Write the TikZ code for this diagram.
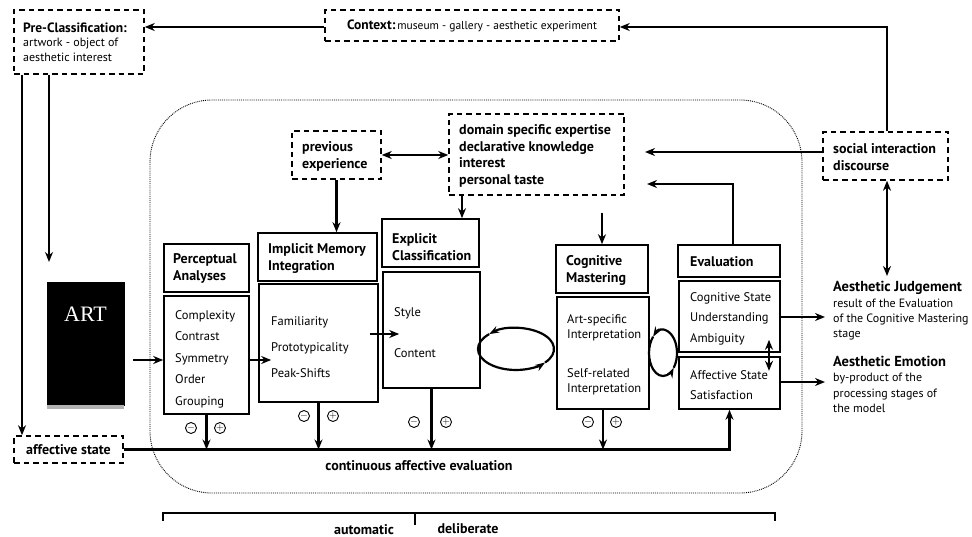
\documentclass[tikz,border=0pt]{standalone}
\usepackage{fontspec}
\setmainfont{PT Sans}
\newfontfamily\artfont{Liberation Serif}
\usetikzlibrary{arrows.meta,fit}
\begin{document}
\begin{tikzpicture}[x=1pt,y=-1pt,
  box/.style={draw,line width=1.6pt,inner sep=0pt},
  dbox/.style={draw,line width=1.5pt,dash pattern=on 5.5pt off 4pt,inner sep=0pt},
  conn/.style={line width=2.2pt,-{Stealth[length=10pt,width=8pt]}},
  dconn/.style={line width=2.2pt,{Stealth[length=10pt,width=8pt]}-{Stealth[length=10pt,width=8pt]}},
  loopa/.style={line width=2.2pt,-{Stealth[length=10pt,width=7pt]}},
  hd/.style={anchor=west,align=left,inner sep=0pt,font=\bfseries\fontsize{14}{17}\selectfont},
  ct/.style={anchor=west,align=left,inner sep=0pt,font=\fontsize{12}{15}\selectfont},
  pm/.style={circle,draw,line width=0.9pt,minimum size=11pt,inner sep=0pt,font=\fontsize{10}{10}\selectfont}
]
\useasboundingbox (0,0) rectangle (972,537);

% dotted frame
\draw[line width=0.9pt,densely dotted,rounded corners=62pt] (150,100) rectangle (802,493);

% dashed boxes
\node[dbox,fit={(14,10)(144,74)}] (pre) {};
\node[ct,font=\fontsize{12}{14.5}\selectfont] (pret) at (23,42) {{\bfseries\fontsize{13.5}{14.5}\selectfont Pre-Classification:}\\artwork - object of\\aesthetic interest};
\node[dbox,fit={(325,10)(619,41)}] (ctx) {};
\node[inner sep=0pt,font=\fontsize{11.5}{14}\selectfont] (ctxt) at (472,26) {{\bfseries\fontsize{13.5}{14}\selectfont Context:}\,museum - gallery - aesthetic experiment};
\node[dbox,fit={(292,131)(381,179)}] (prev) {};
\node[hd] (prevt) at (302,156.5) {previous\\experience};
\node[dbox,fit={(449,114)(624,195)}] (dom) {};
\node[hd,font=\bfseries\fontsize{14}{16.7}\selectfont] (domt) at (459,156) {domain specific expertise\\declarative knowledge\\interest\\personal taste};
\node[dbox,fit={(823,132)(948,180)}] (soc) {};
\node[hd] (soct) at (833,157.5) {social interaction\\discourse};
\node[dbox,fit={(14,436)(123,463)}] (aff) {};
\node[inner sep=0pt,font=\bfseries\fontsize{14}{14}\selectfont] (afft) at (68.5,449.5) {affective state};

% ART
\node[fill=black,draw=black,inner sep=0pt,fit={(47,282)(124,405)}] (art) {};
\fill[black!30] (art.south west) rectangle ([yshift=-4pt]art.south east);
\node[text=white,inner sep=0pt,font=\artfont\fontsize{22}{22}\selectfont] (artt) at (85.5,314) {ART};

% solid boxes
\node[box,fit={(164,244)(249,292)}] (perH) {};
\node[hd] (perHt) at (173,268.5) {Perceptual\\Analyses};
\node[box,fit={(164,296)(249,414)}] (perC) {};
\node[ct,font=\fontsize{12.5}{21.5}\selectfont] (perCt) at (175,359) {Complexity\\Contrast\\Symmetry\\Order\\Grouping};

\node[box,fit={(258,233)(377,281)}] (impH) {};
\node[hd] (impHt) at (268,258.5) {Implicit Memory\\Integration};
\node[box,fit={(259,284)(378,402)}] (impC) {};
\node[ct,font=\fontsize{12.5}{26}\selectfont] (impCt) at (271,347) {Familiarity\\Prototypicality\\Peak-Shifts};

\node[box,fit={(382,219)(479,267)}] (expH) {};
\node[hd] (expHt) at (392,247.5) {Explicit\\Classification};
\node[box,fit={(383,272)(480,388)}] (expC) {};
\node[ct,font=\fontsize{12.5}{41}\selectfont] (expCt) at (394,332.5) {Style\\Content};

\node[box,fit={(556,245)(648,293)}] (cogH) {};
\node[hd] (cogHt) at (566,270) {Cognitive\\Mastering};
\node[box,fit={(557,297)(649,409)}] (cogC) {};
\node[ct,font=\fontsize{12.5}{15}\selectfont] (cogCt1) at (567,327.5) {Art-specific\\Interpretation};
\node[ct,font=\fontsize{12.5}{15}\selectfont] (cogCt2) at (567,382) {Self-related\\Interpretation};

\node[box,fit={(678,245)(780,277)}] (evaH) {};
\node[hd] (evaHt) at (690,262) {Evaluation};
\node[box,fit={(679,281)(780,352)}] (evaC1) {};
\node[ct,font=\fontsize{12.5}{20.5}\selectfont] (evaC1t) at (690,318.5) {Cognitive State\\Understanding\\Ambiguity};
\node[box,fit={(679,357)(780,409)}] (evaC2) {};
\node[ct,font=\fontsize{12.5}{20}\selectfont] (evaC2t) at (690,385) {Affective State\\Satisfaction};

% outputs
\node[ct,font=\fontsize{12}{15.3}\selectfont] (judg) at (833,311) {{\bfseries\fontsize{14.5}{15.3}\selectfont Aesthetic Judgement}\\result of the Evaluation\\of the Cognitive Mastering\\stage};
\node[ct,font=\fontsize{12}{15.3}\selectfont] (emo) at (833,384.5) {{\bfseries\fontsize{14.5}{15.3}\selectfont Aesthetic Emotion}\\by-product of the\\processing stages of\\the model};

% helper coordinates
\coordinate (artin) at (49,262);
\coordinate (judgtop) at (887,276);
\coordinate (judgin) at (825,317);
\coordinate (emoin) at (825,382);
\coordinate (ctxturn) at (887,27);
\coordinate (evaturn) at (733,184);
\coordinate (domin2) at (647,184);
\coordinate (domin1) at (645,152);

% top connectors
\draw[conn] (ctx.west |- 0,27) -- (pre.east |- 0,27);
\draw[conn] (soc.north -| ctxturn) -- (ctxturn) -- (ctx.east |- ctxturn);
\draw[conn] (pre.south -| 22,0) -- (aff.north -| 22,0);
\draw[conn] (pre.south -| artin) -- (artin);
\draw[conn] (soc.west |- domin1) -- (domin1);
\draw[conn] (evaH.north -| evaturn) -- (evaturn) -- (domin2);
\draw[dconn] (soc.south -| judgtop) -- (judgtop);
\draw[dconn] (prev.east |- 0,155) -- (dom.west |- 0,155);
\draw[conn] (prev.south) -- (impH.north -| prev.south);
\draw[conn] (dom.south -| 462,0) -- (expH.north -| 462,0);
\draw[conn] ([yshift=-17pt]dom.south -| cogH.north) -- (cogH.north);

% flow connectors
\draw[conn] ([xshift=9pt]art.east |- 0,360) -- (perC.west |- 0,360);
\draw[conn] (perC.east |- 0,360) -- ([xshift=13pt]impC.west |- 0,360);
\draw[conn] ([xshift=-9pt]impC.east |- 0,334) -- ([xshift=17pt]expC.west |- 0,334);
\draw[conn] (evaC1.east |- judgin) -- (judgin);
\draw[conn] (evaC2.east |- emoin) -- (emoin);
\draw[dconn] (evaC1.south -| 769,0) ++(0,-13) -- ++(0,31);

% loops
\draw[loopa] (516,349) ++(40:38 and 21) arc[start angle=40,end angle=-135,x radius=38,y radius=21];
\draw[loopa] (516,349) ++(-135:38 and 21) arc[start angle=-135,end angle=-320,x radius=38,y radius=21];
\draw[loopa] (663,353) ++(40:14 and 23) arc[start angle=40,end angle=-135,x radius=14,y radius=23];
\draw[loopa] (663,353) ++(-135:14 and 23) arc[start angle=-135,end angle=-320,x radius=14,y radius=23];

% affective evaluation line
\draw[conn] (aff.east) -| (evaC2.south);
\draw[conn] (perC.south) -- (perC.south |- aff.east);
\draw[conn] (impC.south) -- (impC.south |- aff.east);
\draw[conn] (expC.south) -- (expC.south |- aff.east);
\draw[conn] (cogC.south) -- (cogC.south |- aff.east);
\node[inner sep=0pt,font=\bfseries\fontsize{14}{14}\selectfont] (cae) at (419,466) {continuous affective evaluation};

% plus / minus
\node[pm] (pm1) at (191,428) {$-$};
\node[pm] (pp1) at (220,428) {$+$};
\node[pm] (pm2) at (304,416) {$-$};
\node[pm] (pp2) at (333,416) {$+$};
\node[pm] (pm3) at (414,422) {$-$};
\node[pm] (pp3) at (446,422) {$+$};
\node[pm] (pm4) at (588,422) {$-$};
\node[pm] (pp4) at (616,422) {$+$};

% bracket
\coordinate (bl) at (163,513);
\coordinate (br) at (775,513);
\coordinate (bm) at (415,513);
\draw[line width=1.5pt] ([yshift=-8pt]bl) -- (bl) -- (br) -- ([yshift=-8pt]br);
\draw[line width=1.5pt] (bm) -- ([yshift=-12pt]bm);
\node[inner sep=0pt,font=\bfseries\fontsize{14}{14}\selectfont] (auto) at (364,530) {automatic};
\node[inner sep=0pt,font=\bfseries\fontsize{14}{14}\selectfont] (delib) at (468,529) {deliberate};
\end{tikzpicture}
\end{document}
